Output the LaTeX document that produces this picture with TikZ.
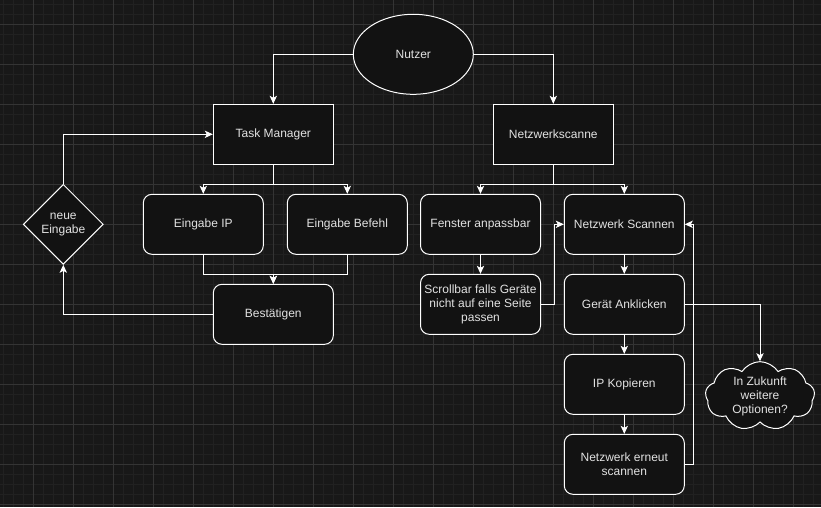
\documentclass[tikz,border=0pt]{standalone}
\usepackage{fontspec}
\setmainfont{Liberation Sans}
\usetikzlibrary{arrows.meta,shapes.geometric,shapes.symbols}

\definecolor{bggrau}{HTML}{181818}
\definecolor{gridfein}{HTML}{212121}
\definecolor{gridgrob}{HTML}{343434}
\definecolor{boxfill}{HTML}{121212}
\definecolor{textgrau}{HTML}{E2E2E2}

\tikzstyle{box}=[rectangle,draw=white,fill=boxfill,line width=0.75pt,minimum width=90pt,minimum height=45pt,inner sep=2pt,text=textgrau,align=center]
\tikzstyle{rbox}=[box,rounded corners=6.5pt]
\tikzstyle{oval}=[ellipse,draw=white,fill=boxfill,line width=0.75pt,minimum width=90pt,minimum height=60pt,inner sep=0pt,text=textgrau]
\tikzstyle{raute}=[diamond,draw=white,fill=boxfill,line width=0.75pt,minimum width=60pt,minimum height=60pt,inner sep=0pt,aspect=1,text=textgrau,align=center]
\tikzstyle{wolke}=[cloud,cloud puffs=9,cloud puff arc=115,aspect=1.6,draw=white,fill=boxfill,line width=0.75pt,minimum width=82pt,minimum height=51pt,inner sep=0pt,text=textgrau,align=center]
\tikzstyle{edge}=[draw=white,line width=0.75pt]

\begin{document}
\begin{tikzpicture}[x=0.75pt, y=-0.75pt, ->, >={Stealth[length=6pt,width=5.5pt,inset=1.5pt]}, every node/.style={font=\fontsize{9}{10.5}\selectfont}]
	\fill[bggrau] (0,0) rectangle (821,507);
	\useasboundingbox (0,0) rectangle (821,507);
	\foreach \i in {0,...,81} \draw[-,gridfein,line width=0.5pt] (3.3+10*\i,0) -- (3.3+10*\i,507);
	\foreach \i in {0,...,50} \draw[-,gridfein,line width=0.5pt] (0,4.3+10*\i) -- (821,4.3+10*\i);
	\foreach \i in {0,...,19} \draw[-,gridgrob,line width=0.6pt] (33.3+40*\i,0) -- (33.3+40*\i,507);
	\foreach \i in {0,...,12} \draw[-,gridgrob,line width=0.6pt] (0,24.3+40*\i) -- (821,24.3+40*\i);

	\node [oval]  (nutzer)   at (413.3, 54.3)  {Nutzer};
	\node [box]   (task)     at (273.3,134.3)  {Task Manager};
	\node [box]   (netz)     at (553.3,134.3)  {Netzwerkscanne};
	\node [raute] (neu)      at ( 63.3,224.3)  {neue\\Eingabe};
	\node [rbox]  (einip)    at (203.3,224.3)  {Eingabe IP};
	\node [rbox]  (einbef)   at (347.3,224.3)  {Eingabe Befehl};
	\node [rbox]  (best)     at (273.3,314.3)  {Bestätigen};
	\node [rbox]  (fenster)  at (480.5,224.3)  {Fenster anpassbar};
	\node [rbox]  (scroll)   at (480.5,304.3)  {Scrollbar falls Geräte\\nicht auf eine Seite\\passen};
	\node [rbox]  (scan)     at (624.3,224.3)  {Netzwerk Scannen};
	\node [rbox]  (geraet)   at (624.3,304.3)  {Gerät Anklicken};
	\node [rbox]  (ipkop)    at (624.3,384.3)  {IP Kopieren};
	\node [rbox]  (erneut)   at (624.3,464.3)  {Netzwerk erneut\\scannen};
	\node [wolke] (zukunft)  at (760.0,396.0)  {In Zukunft\\weitere\\Optionen?};

	\draw [edge] (nutzer) -| (task);
	\draw [edge] (nutzer) -| (netz);
	\draw [edge] (task.south) -- ++(0,20) -| (einip);
	\draw [edge] (task.south) -- ++(0,20) -| (einbef);
	\draw [edge] (einip.south) -- ++(0,20) -| (best);
	\draw [edge] (einbef.south) -- ++(0,20) -| (best);
	\draw [edge] (best) -| (neu);
	\draw [edge] (neu) |- (task);
	\draw [edge] (netz.south) -- ++(0,20) -| (fenster);
	\draw [edge] (netz.south) -- ++(0,20) -| (scan);
	\draw [edge] (fenster) -- (scroll);
	\draw [edge] (scroll.east) -- ++(13,0) |- (scan);
	\draw [edge] (scan) -- (geraet);
	\draw [edge] (geraet) -- (ipkop);
	\draw [edge] (ipkop) -- (erneut);
	\draw [edge] (erneut.east) -- ++(9,0) |- (scan);
	\draw [edge] (geraet) -| (zukunft.north);
\end{tikzpicture}
\end{document}
